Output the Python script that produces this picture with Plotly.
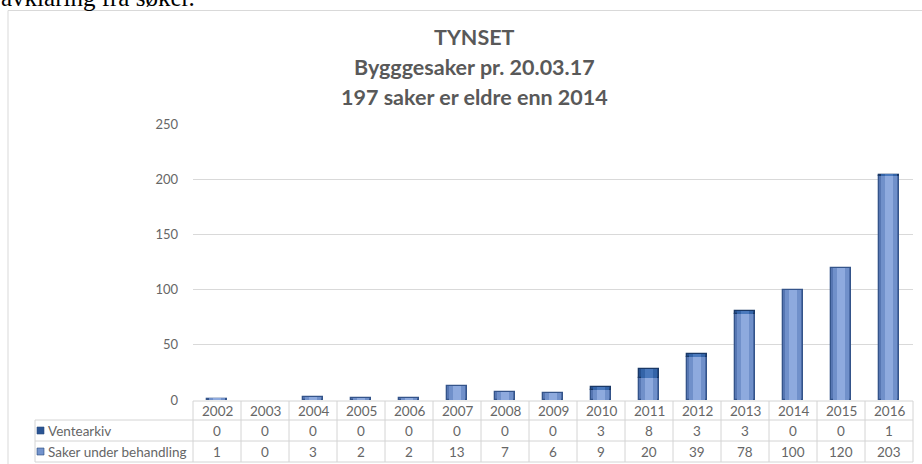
import plotly.graph_objects as go

# Case counts per year
years = ["2002", "2003", "2004", "2005", "2006", "2007", "2008", "2009",
         "2010", "2011", "2012", "2013", "2014", "2015", "2016"]
ventearkiv = [0, 0, 0, 0, 0, 0, 0, 0, 3, 8, 3, 3, 0, 0, 1]
under_behandling = [1, 0, 3, 2, 2, 13, 7, 6, 9, 20, 39, 78, 100, 120, 203]

row_labels = ["Ventearkiv", "Saker under behandling"]
y_ticks = [0, 50, 100, 150, 200, 250]
title_lines = ["TYNSET", "Bygggesaker pr. 20.03.17", "197 saker er eldre enn 2014"]

W, H = 922, 464
ML, MR, MT, MB = 193, 9, 124, 64
PW, PH = W - ML - MR, H - MT - MB

def px(x):
    return (x - ML) / PW

def py(y):
    return (H - MB - y) / PH

FONT = "Lato"
GREY = "#595959"
TABLE_GREY = "#666666"
LINE = "#d4d4d4"

def nz(vals):
    # empty segments are left out instead of drawn as a flat outline
    return [v if v else None for v in vals]

fig = go.Figure()

n = len(years)
xs = list(range(n))

# each segment is built from nested bars of decreasing width to give a shaded look
lower_layers = [(0.42, "#5676b2", dict(color="#34548a", width=1.3)),
                (0.32, "#7090ca", None),
                (0.18, "#8eaade", None)]
upper_layers = [(0.42, "#25508f", dict(color="#1a3866", width=1.3)),
                (0.32, "#3464a8", None),
                (0.18, "#4a79bd", None)]

for k, (w, col, ln) in enumerate(lower_layers):
    fig.add_trace(go.Bar(x=xs, y=nz(under_behandling), base=[0] * n, width=w,
                         marker=dict(color=col, line=ln or dict(width=0)),
                         name=row_labels[1], showlegend=False,
                         hoverinfo=None if k == 0 else "skip"))
for k, (w, col, ln) in enumerate(upper_layers):
    fig.add_trace(go.Bar(x=xs, y=nz(ventearkiv), base=under_behandling, width=w,
                         marker=dict(color=col, line=ln or dict(width=0)),
                         name=row_labels[0], showlegend=False,
                         hoverinfo=None if k == 0 else "skip"))

shapes = []
annotations = []

# outer chart frame
shapes.append(dict(type="rect", xref="paper", yref="paper",
                   x0=px(8), x1=px(935), y0=py(10.5), y1=py(475),
                   line=dict(color="#d9d9d9", width=1), fillcolor="rgba(0,0,0,0)"))

# data table under the axis
row_y = [401, 420, 441, 462]
left_x = 35
for r, yy in enumerate(row_y):
    x0 = px(ML) if r == 0 else px(left_x)
    shapes.append(dict(type="line", xref="paper", yref="paper",
                       x0=x0, x1=1, y0=py(yy), y1=py(yy),
                       line=dict(color=LINE, width=1)))
for i in range(n + 1):
    shapes.append(dict(type="line", xref="paper", yref="paper",
                       x0=i / n, x1=i / n, y0=py(row_y[0]), y1=py(row_y[-1]),
                       line=dict(color=LINE, width=1)))
shapes.append(dict(type="line", xref="paper", yref="paper",
                   x0=px(left_x), x1=px(left_x), y0=py(row_y[1]), y1=py(row_y[-1]),
                   line=dict(color=LINE, width=1)))

row_vals = [ventearkiv, under_behandling]
row_colors = ["#2a5494", "#7393cc"]
for i, yr in enumerate(years):
    annotations.append(dict(x=i, xref="x", y=py((row_y[0] + row_y[1]) / 2), yref="paper",
                            text=yr, showarrow=False, xanchor="center", yanchor="middle",
                            font=dict(family=FONT, size=13.5, color=TABLE_GREY)))
    for r, vals in enumerate(row_vals):
        yc = (row_y[r + 1] + row_y[r + 2]) / 2
        annotations.append(dict(x=i, xref="x", y=py(yc), yref="paper",
                                text=str(vals[i]), showarrow=False,
                                xanchor="center", yanchor="middle",
                                font=dict(family=FONT, size=13.5, color=TABLE_GREY)))

for r, lab in enumerate(row_labels):
    yc = (row_y[r + 1] + row_y[r + 2]) / 2
    shapes.append(dict(type="rect", xref="paper", yref="paper",
                       x0=px(37), x1=px(44), y0=py(yc - 3.5), y1=py(yc + 3.5),
                       fillcolor=row_colors[r], line=dict(color="#2a4a7e", width=0.6)))
    annotations.append(dict(x=px(46), xref="paper", y=py(yc), yref="paper",
                            text=lab, showarrow=False, xanchor="left", yanchor="middle",
                            font=dict(family=FONT, size=13.5, color=TABLE_GREY)))

# chart title
for k, line in enumerate(title_lines):
    annotations.append(dict(x=px(474), xref="paper", y=py(37 + 30 * k), yref="paper",
                            text="<b>" + line + "</b>", showarrow=False,
                            xanchor="center", yanchor="middle",
                            font=dict(family=FONT, size=21.5, color=GREY)))

# end of the preceding paragraph above the chart
annotations.append(dict(x=px(-1), xref="paper", y=py(13), yref="paper",
                        text="avklaring fra søker.", showarrow=False,
                        xanchor="left", yanchor="bottom",
                        font=dict(family="Liberation Serif", size=25, color="#000000")))

fig.update_layout(
    width=W, height=H,
    margin=dict(l=ML, r=MR, t=MT, b=MB),
    paper_bgcolor="white", plot_bgcolor="white",
    barmode="overlay",
    bargap=0,
    showlegend=False,
    shapes=shapes,
    annotations=annotations,
    xaxis=dict(range=[-0.5, n - 0.5], showticklabels=False, showgrid=False,
               zeroline=False, showline=False, ticks=""),
    yaxis=dict(range=[0, 250], tickvals=y_ticks, showgrid=True, gridcolor="#d9d9d9",
               gridwidth=1, zeroline=False, showline=False, ticks="",
               ticklabelstandoff=14,
               tickfont=dict(family=FONT, size=13, color=TABLE_GREY)),
)

fig.write_html("out.html")
